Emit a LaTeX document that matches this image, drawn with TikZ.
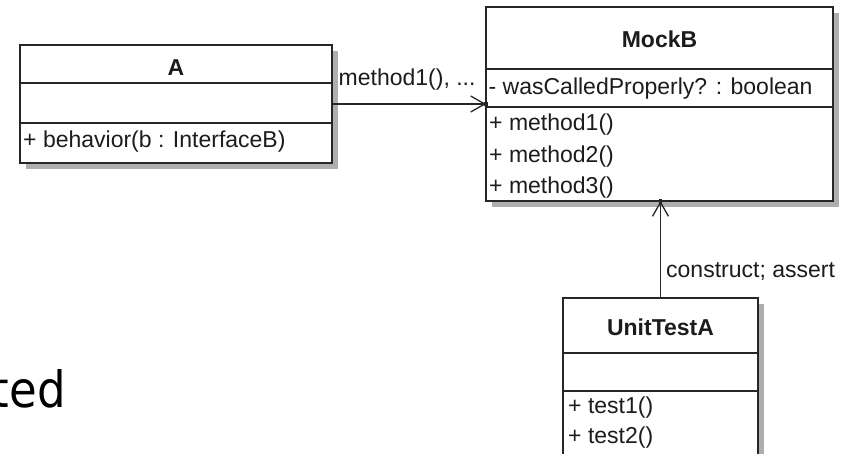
\documentclass[tikz,border=0pt]{standalone}
\usepackage{fontspec}
\setmainfont{Liberation Sans}
\newfontfamily\slidefont{DejaVu Sans}
\usetikzlibrary{arrows.meta,shadows}
\definecolor{ink}{HTML}{1C1C1C}
\definecolor{edge}{HTML}{262626}
\definecolor{shade}{HTML}{AEAEAE}
\begin{document}
\begin{tikzpicture}[x=1pt,y=-1pt,
  classbox/.style={rectangle, draw=edge, line width=1.6pt, fill=white,
    inner sep=0pt, outer sep=0pt,
    drop shadow={shadow xshift=6pt, shadow yshift=-6pt, fill=shade, opacity=1}},
  title/.style={font=\fontsize{23}{27}\selectfont\bfseries, text=ink, inner sep=0pt},
  member/.style={font=\fontsize{23}{27}\selectfont, text=ink, inner sep=0pt, anchor=base west},
  sep/.style={draw=edge, line width=1.6pt},
  call/.style={draw=edge, line width=1.5pt,
    -{Straight Barb[length=14pt,width=16pt,line width=1.3pt]}},
  endmark/.style={rectangle, fill=edge, inner sep=0pt, minimum size=3.5pt},
]
\useasboundingbox (0,0) rectangle (845,454);
\clip (0,0) rectangle (845,454);

% large slide text partly cut off at the left edge
\node[font=\slidefont\fontsize{50}{60}\selectfont, text=black, anchor=base east,
  inner sep=0pt, xscale=0.9] (slide) at (66,407) {ted};

% class boxes
\node[classbox, minimum width=312pt, minimum height=118pt] (A) at (176,104) {};
\node[classbox, minimum width=347pt, minimum height=194pt] (MockB) at (659.5,104) {};
\node[classbox, minimum width=195pt, minimum height=164pt] (UnitTestA) at (660.5,380) {};

% compartment separators
\draw[sep] (A.west |- 0,83) -- (A.east |- 0,83);
\draw[sep] (A.west |- 0,123) -- (A.east |- 0,123);
\draw[sep] (MockB.west |- 0,69) -- (MockB.east |- 0,69);
\draw[sep] (MockB.west |- 0,107) -- (MockB.east |- 0,107);
\draw[sep] (UnitTestA.west |- 0,353) -- (UnitTestA.east |- 0,353);
\draw[sep] (UnitTestA.west |- 0,391) -- (UnitTestA.east |- 0,391);

% class names
\node[title] (Aname) at (176,68) {A};
\node[title] (Bname) at (659.5,39) {MockB};
\node[title] (Uname) at (660.5,327) {UnitTestA};

% members
\node[member] (Am1) at (23,148) {+ behavior(b : InterfaceB)};
\node[member] (Battr) at (488.5,95) {- wasCalledProperly? : boolean};
\node[member] (Bm1) at (489,131) {+ method1()};
\node[member] (Bm2) at (489,163) {+ method2()};
\node[member] (Bm3) at (489,194) {+ method3()};
\node[member] (Um1) at (568,413) {+ test1()};
\node[member] (Um2) at (568,443) {+ test2()};

% dependencies
\draw[call] (A.east) -- (MockB.west);
\draw[call] (UnitTestA.north) -- (UnitTestA.north |- MockB.south);
\node[endmark] (tipA) at (MockB.west) {};
\node[endmark] (tipU) at (UnitTestA.north |- MockB.south) {};

% connector labels
\node[member] (lab1) at (338.5,86) {method1(), ...};
\node[member] (lab2) at (666,277) {construct; assert};
\end{tikzpicture}
\end{document}
